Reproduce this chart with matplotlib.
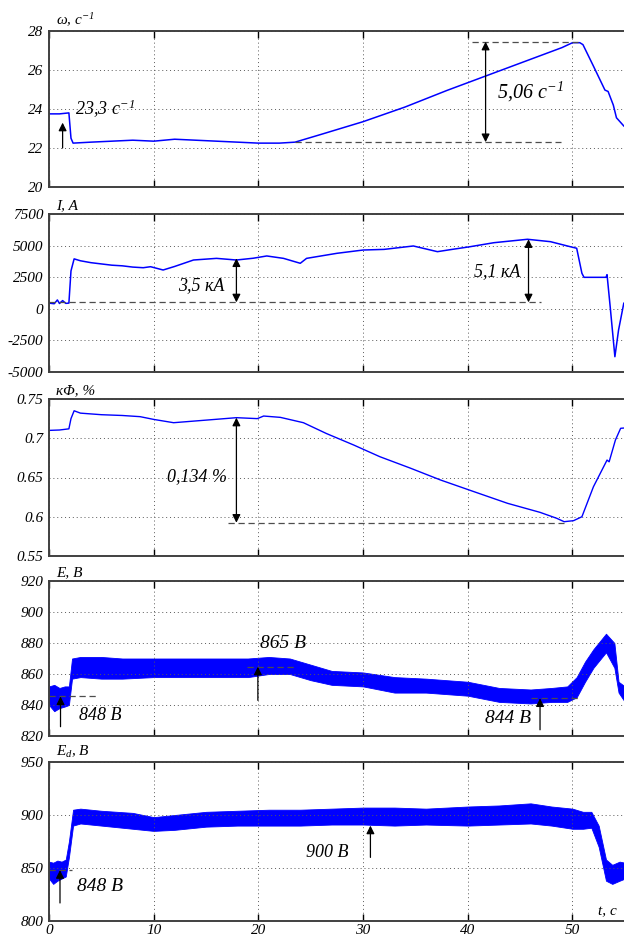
import numpy as np
import matplotlib
matplotlib.use('Agg')
import matplotlib.pyplot as plt

plt.rcParams['font.family'] = ['Liberation Serif', 'DejaVu Serif']
plt.rcParams['font.style'] = 'italic'
plt.rcParams['mathtext.fontset'] = 'custom'
plt.rcParams['mathtext.rm'] = 'Liberation Serif:italic'
plt.rcParams['mathtext.it'] = 'Liberation Serif:italic'
plt.rcParams['axes.unicode_minus'] = False

# --- данные, снятые с осциллограмм ---
# угловая скорость, 1/c
w_t = [0, 1.0, 1.9, 2.1, 2.3, 4, 6, 8, 10, 12, 14, 16, 18, 20, 22, 23.5, 26, 30, 34, 38,
       42, 46, 49, 50, 50.7, 51.0, 52.0, 53.1, 53.4, 53.9, 54.2, 54.9]
w_vals = [23.75, 23.75, 23.8, 22.5, 22.25, 22.3, 22.35, 22.4, 22.35, 22.45, 22.4, 22.35, 22.3,
          22.25, 22.25, 22.3, 22.7, 23.35, 24.1, 24.95, 25.75, 26.55, 27.15, 27.4, 27.4, 27.3,
          26.2, 24.97, 24.9, 24.2, 23.55, 23.13]

# ток якоря, А
I_t = [0, 0.5, 0.8, 1.0, 1.3, 1.6, 1.9, 2.1, 2.4, 3, 4, 5, 6, 7, 8, 9, 9.7, 10.9, 12, 13.8,
       16, 17.9, 19.5, 20.8, 22.4, 24.0, 24.6, 27.5, 30, 32, 34.8, 37.1, 38.5, 40.2, 42.5,
       45.7, 47.9, 49.8, 50.4, 50.9, 51.1, 53.2, 53.3, 53.6, 54.05, 54.4, 54.9]
I_vals = [450, 400, 700, 420, 650, 430, 450, 3000, 3950, 3800, 3650, 3550, 3450, 3400, 3300,
          3250, 3330, 3070, 3350, 3860, 3990, 3860, 4000, 4180, 3990, 3600, 3990, 4390, 4650,
          4700, 4970, 4520, 4700, 4910, 5230, 5500, 5310, 4910, 4790, 2810, 2490, 2490, 2700,
          170, -3790, -1680, 440]

# кФ, %
k_t = [0, 1, 1.9, 2.1, 2.4, 3, 5, 7, 8.7, 10, 11.9, 15.1, 17.9, 19.9, 20.5, 22.1, 24.3, 26.5,
       29.1, 31.6, 34.5, 37.4, 40.6, 43.8, 46.9, 48.5, 49.2, 50.1, 50.9, 52.0, 53.3, 53.5,
       54.1, 54.6, 54.9]
k_vals = [0.710, 0.7105, 0.712, 0.725, 0.735, 0.732, 0.730, 0.729, 0.7275, 0.724, 0.7198,
          0.7232, 0.7262, 0.725, 0.7283, 0.7266, 0.7198, 0.706, 0.6914, 0.6765, 0.662, 0.6468,
          0.6319, 0.6171, 0.6056, 0.598, 0.5937, 0.595, 0.600, 0.6382, 0.6722, 0.670, 0.6977,
          0.7127, 0.713]

# ЭДС E, В (нижняя и верхняя огибающие)
E_t = [0, 0.5, 1.0, 1.5, 1.9, 2.2, 3, 5, 7, 10, 13, 16, 19, 21, 23, 25, 27, 30, 33, 36, 40,
       43, 46, 48, 49.5, 50.4, 51.2, 52, 53.2, 54, 54.4, 55]
E_lo = [840, 836, 838, 839, 840, 857, 858, 857, 857, 858, 858, 858, 858, 860, 860, 856, 853,
        852, 848, 848, 846, 842, 841, 842, 842, 845, 855, 864, 874, 864, 848, 842]
E_hi = [852, 853, 851, 852, 852, 870, 871, 871, 870, 870, 870, 870, 870, 871, 870, 866, 862,
        861, 858, 857, 855, 851, 850, 851, 852, 858, 868, 876, 886, 880, 855, 852]

# ЭДС Ed, В
Ed_t = [0, 0.4, 0.8, 1.2, 1.6, 1.9, 2.3, 3, 5, 8, 10, 12, 15, 18, 21, 24, 27, 30, 33, 36,
        40, 43, 46, 48, 50, 51, 51.8, 52.5, 53.2, 53.8, 54.5, 55]
Ed_lo = [840, 835, 838, 840, 842, 860, 890, 892, 890, 887, 885, 886, 889, 890, 890, 890, 891,
         891, 890, 891, 890, 891, 892, 890, 887, 887, 888, 870, 838, 835, 838, 840]
Ed_hi = [856, 855, 857, 856, 858, 875, 905, 906, 904, 902, 898, 900, 903, 904, 905, 905, 906,
         907, 907, 906, 908, 909, 911, 908, 906, 903, 903, 890, 858, 853, 856, 855]

blue = '#0000ff'
fig = plt.figure(figsize=(6.24, 9.35), dpi=100)

L, W = 49 / 624, 575 / 624
boxes = [(31, 187), (214, 372), (399, 556), (581, 736), (762, 921)]
axes = []
for top, bot in boxes:
    ax = fig.add_axes([L, 1 - bot / 935, W, (bot - top) / 935])
    axes.append(ax)

ylims = [(20, 28), (-5000, 7500), (0.55, 0.75), (820, 920), (800, 950)]
yticks = [[20, 22, 24, 26, 28], [-5000, -2500, 0, 2500, 5000, 7500],
          [0.55, 0.6, 0.65, 0.7, 0.75], [820, 840, 860, 880, 900, 920], [800, 850, 900, 950]]
ylabels = [r'$\omega$, $c^{-1}$', 'I, A', 'кΦ, %', 'E, B', r'$E_d$, B']

for i, ax in enumerate(axes):
    ax.set_xlim(0, 54.92)
    ax.set_ylim(*ylims[i])
    ax.set_yticks(yticks[i])
    ax.set_xticks([0, 10, 20, 30, 40, 50])
    ax.grid(True, linestyle=(0, (1, 3)), color='0.35', linewidth=0.7)
    ax.tick_params(axis='x', direction='in', top=True, length=5, width=1, labelsize=11, pad=2)
    ax.tick_params(axis='y', length=0, labelsize=11, pad=4)
    ax.spines['right'].set_visible(False)
    for s in ['left', 'top', 'bottom']:
        ax.spines[s].set_linewidth(1.4)
        ax.spines[s].set_color('0.25')
    if i < 4:
        ax.set_xticklabels([])
    ax.text(0.012, 1.012, ylabels[i], transform=ax.transAxes, fontsize=11, va='bottom')
    if i == 2:
        ax.set_yticklabels(['0.55', '0.6', '0.65', '0.7', '0.75'])

axes[4].text(0.955, 0.02, 't, c', transform=axes[4].transAxes, fontsize=11, va='bottom')

dash = dict(color='0.3', linestyle=(0, (5, 3)), linewidth=0.9)
arr2 = dict(arrowstyle='<|-|>', color='black', lw=0.9, mutation_scale=12, shrinkA=0, shrinkB=0)
arr1 = dict(arrowstyle='-|>', color='black', lw=0.9, mutation_scale=12, shrinkA=0, shrinkB=0)

# 1. omega
ax = axes[0]
ax.plot(w_t, w_vals, color=blue, lw=1.1)
ax.plot([40.4, 50.5], [27.45, 27.45], **dash)
ax.plot([23.5, 48.9], [22.3, 22.3], **dash)
ax.annotate('', xy=(41.7, 27.45), xytext=(41.7, 22.3), arrowprops=arr2)
ax.text(42.8, 24.9, '5,06 $c^{-1}$', fontsize=14.5, va='center')
ax.annotate('', xy=(1.3, 23.3), xytext=(1.3, 22.0), arrowprops=arr1)
ax.text(2.5, 24.0, '23,3 $c^{-1}$', fontsize=13, va='center')

# 2. current
ax = axes[1]
ax.plot(I_t, I_vals, color=blue, lw=1.1)
ax.plot([0, 47], [510, 510], **dash)
ax.annotate('', xy=(17.9, 3990), xytext=(17.9, 510), arrowprops=arr2)
ax.annotate('', xy=(45.8, 5500), xytext=(45.8, 510), arrowprops=arr2)
ax.text(16.8, 1830, '3,5 кА', fontsize=13, ha='right', va='center')
ax.text(45.0, 2940, '5,1 кА', fontsize=13, ha='right', va='center')

# 3. kF
ax = axes[2]
ax.plot(k_t, k_vals, color=blue, lw=1.0)
ax.plot([17.1, 49.2], [0.5924, 0.5924], **dash)
ax.annotate('', xy=(17.9, 0.7262), xytext=(17.9, 0.5924), arrowprops=arr2)
ax.text(17.0, 0.651, '0,134 %', fontsize=13, ha='right', va='center')

# 4. E
ax = axes[3]
ax.fill_between(E_t, E_lo, E_hi, color=blue, lw=0.6, edgecolor=blue)
ax.plot([0, 4.7], [846, 846], **dash)
ax.annotate('', xy=(1.1, 845.5), xytext=(1.1, 826), arrowprops=arr1)
ax.text(2.9, 833.5, '848 B', fontsize=13, va='center')
ax.plot([18.9, 23.7], [864.7, 864.7], **dash)
ax.annotate('', xy=(19.95, 864.7), xytext=(19.95, 843), arrowprops=arr1)
ax.text(20.2, 880, '865 B', fontsize=14, va='center')
ax.plot([46.0, 50.6], [844.3, 844.3], **dash)
ax.annotate('', xy=(46.9, 844.3), xytext=(46.9, 824), arrowprops=arr1)
ax.text(46.0, 831.4, '844 B', fontsize=14, ha='right', va='center')

# 5. Ed
ax = axes[4]
ax.fill_between(Ed_t, Ed_lo, Ed_hi, color=blue, lw=0.6, edgecolor=blue)
ax.plot([0, 2.2], [848, 848], **dash)
ax.annotate('', xy=(1.05, 848), xytext=(1.05, 817), arrowprops=arr1)
ax.text(2.7, 832.4, '848 B', fontsize=14, va='center')
ax.annotate('', xy=(30.7, 890), xytext=(30.7, 860), arrowprops=arr1)
ax.text(24.5, 865, '900 B', fontsize=13, va='center')

fig.savefig('out.png', dpi=100)
